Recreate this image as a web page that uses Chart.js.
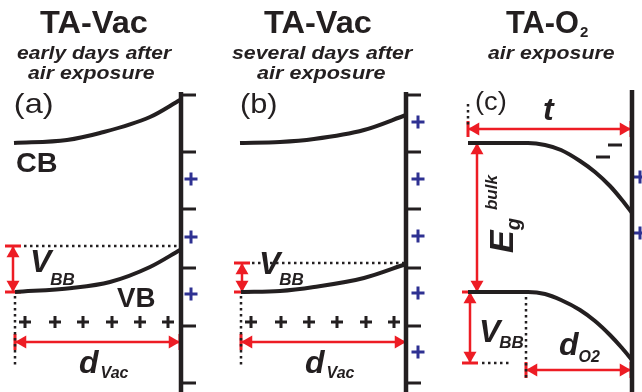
<!DOCTYPE html>
<html>
<head>
<meta charset="utf-8">
<script src="https://cdn.jsdelivr.net/npm/chart.js@4.4.1/dist/chart.umd.min.js"></script>
<style>
  body { margin: 0; background: #fff; }
  canvas { display: block; }
</style>
</head>
<body>
<canvas id="bands" width="642" height="392"></canvas>
<script>
// Schematic band diagram. The axes run in picture units
// (x 0..642, y 0..392 downwards) so every mark is a plain [x, y] pair.

// surface line of each panel and the tick marks on it
const surfaceX = [181, 406, 632];
const surfaceTop = [92, 92, 90];
const tickY = [95, 152, 209, 268, 326, 383];
const tickPanels = [0, 1]; // panel (c) has no ticks

// band edges
const cbA = [[14, 143], [67, 140], [100, 133], [150, 117], [180, 100]];
const vbA = [[15, 292], [72, 288], [110, 282], [150, 267], [180, 250]];
const cbB = [[240, 143], [280, 142], [314, 139], [364, 130], [406, 115]];
const vbB = [[241, 292], [280, 291], [314, 287], [364, 278], [406, 264]];
const cbC = [[468, 143], [528, 143], [545, 145], [561, 150], [580, 161], [595, 172],
  [610, 186], [622, 200], [632, 213]];
const vbC = [[468, 292], [528, 292], [545, 294], [561, 300], [580, 310], [595, 321],
  [610, 335], [622, 348], [632, 360]];

// charges
const surfacePlus = [[191, 179], [191, 237], [191, 294],
  [418, 122], [418, 179], [418, 236], [418, 293], [418, 352],
  [640, 177], [640, 233]];
const bulkPlusX = [25, 55, 83, 112, 140, 168, 251, 281, 309, 337, 366, 394];
const bulkPlusY = 322;
const minusC = [[603, 157], [615, 145]];

// dotted guides
const dotted = [
  [[24, 246], [180, 246]], [[15, 296], [15, 366]],
  [[252, 263], [405, 263]], [[241, 296], [241, 366]],
  [[468, 104], [468, 127]],
  [[482, 363], [510, 363]], [[526, 297], [526, 379]]
];

// red double arrows with end bars
const arrows = [
  [[13, 246], [13, 292]], [[15, 342], [180, 342]],
  [[242, 263], [242, 292]], [[241, 342], [406, 342]],
  [[468, 129], [631, 129]], [[477, 143], [477, 292]],
  [[470, 292], [470, 363]], [[526, 370], [631, 370]]
];

const BLACK = '#231f20';
const RED = '#ed1c24';
const BLUE = '#2e3192';
const FONT = '"Liberation Sans", Arial, sans-serif';

// text: x = left edge of the ink, y = baseline, w = ink width to stretch to,
// then runs [text, font, dx, dy]
const labels = [
  { x: 40, y: 33, w: 107, parts: [['TA-Vac', 'bold 32px']] },
  { x: 17, y: 59, w: 156, parts: [['early days after', 'italic bold 19px']] },
  { x: 28, y: 79, w: 127, parts: [['air exposure', 'italic bold 19px']] },
  { x: 264, y: 33, w: 107, parts: [['TA-Vac', 'bold 32px']] },
  { x: 232, y: 59, w: 182, parts: [['several days after', 'italic bold 19px']] },
  { x: 257, y: 79, w: 129, parts: [['air exposure', 'italic bold 19px']] },
  { x: 506, y: 33, w: 72, parts: [['TA-O', 'bold 32px']] },
  { x: 580, y: 37, parts: [['2', 'bold 15px']] },
  { x: 488, y: 59, w: 127, parts: [['air exposure', 'italic bold 19px']] },
  { x: 15, y: 113, w: 37, parts: [['(a)', '28px']] },
  { x: 241, y: 113, w: 35, parts: [['(b)', '28px']] },
  { x: 476, y: 110, w: 30, parts: [['(c)', '26px']] },
  { x: 17, y: 172, w: 40, parts: [['CB', 'bold 27px']] },
  { x: 117, y: 307, w: 38, parts: [['VB', 'bold 27px']] },
  { x: 30, y: 272, parts: [['V', 'italic bold 32px'], ['BB', 'italic bold 17px', -1, 13]] },
  { x: 259, y: 274, parts: [['V', 'italic bold 32px'], ['BB', 'italic bold 17px', -1, 11]] },
  { x: 479, y: 342, parts: [['V', 'italic bold 32px'], ['BB', 'italic bold 17px', -1, 6]] },
  { x: 79, y: 373, parts: [['d', 'italic bold 32px'], ['Vac', 'italic bold 16px', 2, 5]] },
  { x: 305, y: 373, parts: [['d', 'italic bold 32px'], ['Vac', 'italic bold 16px', 2, 5]] },
  { x: 559, y: 355, parts: [['d', 'italic bold 32px'], ['O2', 'italic bold 16px', 0, 7]] },
  { x: 543, y: 120, parts: [['t', 'italic bold 32px']] },
  { x: 513, y: 253, rot: -90, parts: [['E', 'italic bold 34px'], ['g', 'italic bold 20px', 0, 7], ['bulk', 'italic bold 17px', 8, -16]] }
];

const pts = arr => arr.map(p => ({ x: p[0], y: p[1] }));

function segment(points, color, width, dash) {
  return {
    data: pts(points), showLine: true, borderColor: color, borderWidth: width,
    borderDash: dash || [], pointRadius: 0, fill: false, tension: 0, borderCapStyle: 'butt'
  };
}

function curve(points) {
  return {
    data: pts(points), showLine: true, borderColor: BLACK, borderWidth: 4,
    pointRadius: 0, fill: false, cubicInterpolationMode: 'monotone'
  };
}

function arrow(a, b) {
  const [x1, y1] = a, [x2, y2] = b;
  const r = 7.5, bar = 8;
  const horiz = y1 === y2;
  const heads = horiz
    ? [[x1 + r, y1, -90], [x2 - r, y2, 90]]
    : [[x1, y1 + r, 0], [x2, y2 - r, 180]];
  const out = [segment([a, b], RED, 2.5)];
  if (horiz) {
    out.push(segment([[x1, y1 - bar], [x1, y1 + bar]], RED, 3));
    out.push(segment([[x2, y2 - bar], [x2, y2 + bar]], RED, 3));
  } else {
    out.push(segment([[x1 - bar, y1], [x1 + bar, y1]], RED, 3));
    out.push(segment([[x2 - bar, y2], [x2 + bar, y2]], RED, 3));
  }
  out.push({
    data: heads.map(h => ({ x: h[0], y: h[1] })), showLine: false,
    pointStyle: 'triangle', pointRadius: r, pointRotation: heads.map(h => h[2]),
    backgroundColor: RED, borderColor: RED, pointBorderWidth: 0
  });
  return out;
}

const datasets = [];
surfaceX.forEach((x, i) => datasets.push(segment([[x, surfaceTop[i]], [x, 392]], BLACK, 4.5)));
tickPanels.forEach(i => tickY.forEach(y =>
  datasets.push(segment([[surfaceX[i], y], [surfaceX[i] + 15, y]], BLACK, 3))));
[cbA, vbA, cbB, vbB, cbC, vbC].forEach(c => datasets.push(curve(c)));
dotted.forEach(d => datasets.push(segment(d, BLACK, 2.5, [2.5, 3.5])));
arrows.forEach(a => datasets.push(...arrow(a[0], a[1])));
datasets.push({
  data: pts(surfacePlus), showLine: false, pointStyle: 'cross', pointRadius: 6.5,
  borderColor: BLUE, pointBorderWidth: 3
});
datasets.push({
  data: bulkPlusX.map(x => ({ x: x, y: bulkPlusY })), showLine: false, pointStyle: 'cross',
  pointRadius: 6, borderColor: BLACK, pointBorderWidth: 3
});
datasets.push({
  data: pts(minusC), showLine: false, pointStyle: 'line', pointRadius: 7,
  borderColor: BLACK, pointBorderWidth: 3
});

// draws the labels through the chart scales
const textPlugin = {
  id: 'bandText',
  afterDatasetsDraw(chart) {
    const ctx = chart.ctx;
    const sx = chart.scales.x, sy = chart.scales.y;
    labels.forEach(l => {
      ctx.save();
      ctx.translate(sx.getPixelForValue(l.x), sy.getPixelForValue(l.y));
      if (l.rot) ctx.rotate(l.rot * Math.PI / 180);
      ctx.fillStyle = BLACK;
      ctx.textBaseline = 'alphabetic';
      ctx.textAlign = 'left';
      if (l.w) {
        // single run stretched to the ink width
        const p = l.parts[0];
        ctx.font = p[1] + ' ' + FONT;
        const m = ctx.measureText(p[0]);
        const ink = m.actualBoundingBoxLeft + m.actualBoundingBoxRight;
        ctx.scale(l.w / ink, 1);
        ctx.fillText(p[0], m.actualBoundingBoxLeft, 0);
      } else {
        let cx = 0;
        l.parts.forEach(p => {
          ctx.font = p[1] + ' ' + FONT;
          cx += p[2] || 0;
          ctx.fillText(p[0], cx, p[3] || 0);
          cx += ctx.measureText(p[0]).width;
        });
      }
      ctx.restore();
    });
  }
};

new Chart(document.getElementById('bands'), {
  type: 'scatter',
  data: { datasets: datasets },
  options: {
    responsive: false,
    animation: false,
    layout: { padding: 0, autoPadding: false },
    plugins: { legend: { display: false }, tooltip: { enabled: false } },
    scales: {
      x: { type: 'linear', min: 0, max: 642, display: false },
      y: { type: 'linear', min: 0, max: 392, reverse: true, display: false }
    }
  },
  plugins: [textPlugin]
});
</script>
</body>
</html>
